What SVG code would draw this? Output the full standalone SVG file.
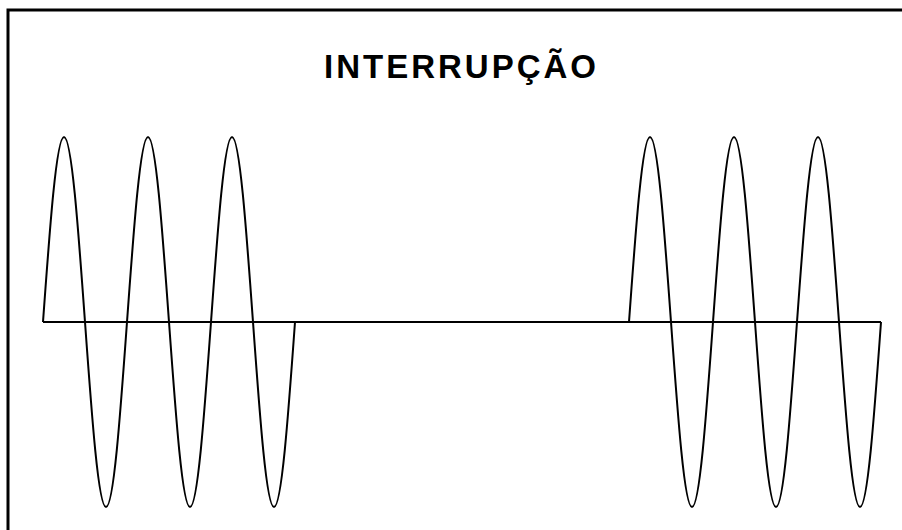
<svg xmlns="http://www.w3.org/2000/svg" width="902" height="530" viewBox="0 0 902 530">
<style>
.wave{fill:none;stroke:#000;stroke-width:2;stroke-linejoin:round}
.frame{fill:none;stroke:#000;stroke-width:3}
.title{font-family:"Liberation Sans",Arial,sans-serif;font-weight:bold;font-size:33px;letter-spacing:3px;fill:#000}
</style>
<rect x="0" y="0" width="902" height="530" fill="#fff"/>
<path class="frame" d="M8,531 V10 H903"/>
<text class="title" x="461.5" y="78" text-anchor="middle">INTERRUPÇÃO</text>
<g id="connectors">
<path id="baseline" class="wave" d="M43,322 H881"/>
<path id="wave-left" class="wave" d="M43,322 c6.85,-94.78 13.40,-185 21,-185 s14.15,90.22 21,185 s13.40,185 21,185 s14.15,-90.22 21,-185 s13.40,-185 21,-185 s14.15,90.22 21,185 s13.40,185 21,185 s14.15,-90.22 21,-185 s13.40,-185 21,-185 s14.15,90.22 21,185 s13.40,185 21,185 s14.15,-90.22 21,-185"/>
<path id="wave-right" class="wave" d="M629,322 c6.85,-94.78 13.40,-185 21,-185 s14.15,90.22 21,185 s13.40,185 21,185 s14.15,-90.22 21,-185 s13.40,-185 21,-185 s14.15,90.22 21,185 s13.40,185 21,185 s14.15,-90.22 21,-185 s13.40,-185 21,-185 s14.15,90.22 21,185 s13.40,185 21,185 s14.15,-90.22 21,-185"/>
</g>
</svg>
